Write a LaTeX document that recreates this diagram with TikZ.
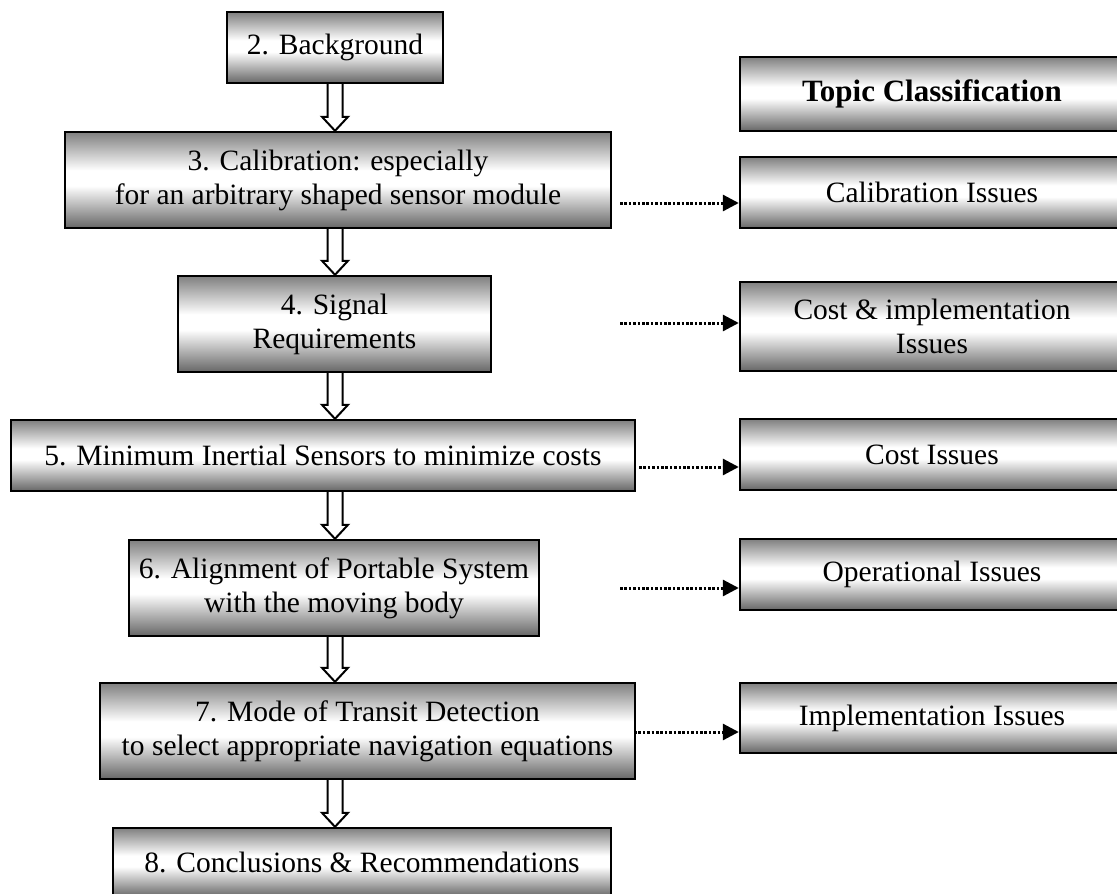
\documentclass[tikz,border=0pt]{standalone}
\usepackage{fontspec}
\setmainfont{Liberation Serif}
\usetikzlibrary{calc,arrows.meta}
% the path maps to 25bp..75bp of a TikZ shading
\pgfdeclareverticalshading{boxshade}{100bp}{color(0bp)=(black!60); color(25bp)=(black!60); color(47bp)=(white); color(55bp)=(white); color(75bp)=(black!50); color(100bp)=(black!50)}
\newcommand\hollowarrow[2]{%
  \draw[harrow] ($(#1.south -| ax)+(-7.5,0)$) -- ($(#2.north -| ax)+(-7.5,-14)$)
    -- ($(#2.north -| ax)+(-13,-14)$) -- (#2.north -| ax)
    -- ($(#2.north -| ax)+(13,-14)$) -- ($(#2.north -| ax)+(7.5,-14)$)
    -- ($(#1.south -| ax)+(7.5,0)$);}
\begin{document}
\begin{tikzpicture}[x=1pt,y=-1pt,
  box/.style={draw=black, line width=2.4pt, shading=boxshade, align=center,
    inner sep=0pt, font=\fontsize{29.5}{34}\selectfont},
  harrow/.style={draw=black, line width=2pt, fill=white, line join=miter},
  dotarrow/.style={line width=3pt, dash pattern=on 2.6pt off 1.8pt,
    -{Triangle[length=16pt,width=16pt]}}
]
\useasboundingbox (0,0) rectangle (1117,894);
\clip (0,0) rectangle (1117,894);
\coordinate (ax) at (335,0);

% left column
\node[box, minimum width=216, minimum height=71] (b2) at (335,47.5) {2. Background};
\node[box, minimum width=546, minimum height=96] (b3) at (338,180) {3. Calibration: especially\\for an arbitrary shaped sensor module};
\node[box, minimum width=313, minimum height=96] (b4) at (334.5,324) {4. Signal\\Requirements};
\node[box, minimum width=624, minimum height=71] (b5) at (323,455.5) {5. Minimum Inertial Sensors to minimize costs};
\node[box, minimum width=410, minimum height=96] (b6) at (334,588) {6. Alignment of Portable System\\with the moving body};
\node[box, minimum width=535, minimum height=96] (b7) at (367.5,731) {7. Mode of Transit Detection\\to select appropriate navigation equations};
\node[box, minimum width=498, minimum height=69] (b8) at (362,862.5) {8. Conclusions \& Recommendations};

% right column
\node[box, minimum width=384, minimum height=74, font=\fontsize{31}{35}\selectfont\bfseries] (rt) at (932,94) {Topic Classification};
\node[box, minimum width=384, minimum height=71] (r1) at (932,192.5) {Calibration Issues};
\node[box, minimum width=384, minimum height=89] (r2) at (932,326.5) {Cost \& implementation\\Issues};
\node[box, minimum width=384, minimum height=71] (r3) at (932,454.5) {Cost Issues};
\node[box, minimum width=384, minimum height=71] (r4) at (932,574.5) {Operational Issues};
\node[box, minimum width=384, minimum height=70] (r5) at (932,718) {Implementation Issues};

% hollow arrows
\hollowarrow{b2}{b3}
\hollowarrow{b3}{b4}
\hollowarrow{b4}{b5}
\hollowarrow{b5}{b6}
\hollowarrow{b6}{b7}
\hollowarrow{b7}{b8}

% dotted arrows
\coordinate (s1) at (620,203);
\coordinate (s2) at (620,323);
\coordinate (s3) at (639,467);
\coordinate (s4) at (620,588);
\coordinate (s5) at (634,732);
\draw[dotarrow] (s1) -- (s1 -| r1.west);
\draw[dotarrow] (s2) -- (s2 -| r2.west);
\draw[dotarrow] (s3) -- (s3 -| r3.west);
\draw[dotarrow] (s4) -- (s4 -| r4.west);
\draw[dotarrow] (s5) -- (s5 -| r5.west);
\end{tikzpicture}
\end{document}
